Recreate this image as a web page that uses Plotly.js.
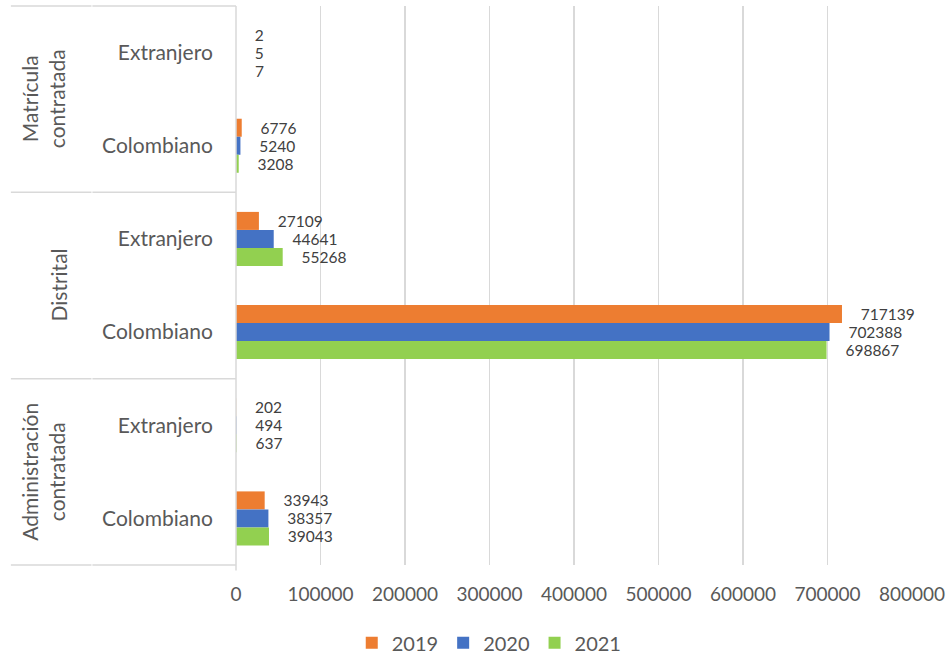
<!DOCTYPE html>
<html>
<head>
<meta charset="utf-8">
<script src="https://cdn.plot.ly/plotly-3.0.1.min.js"></script>
<style>html,body{margin:0;padding:0;background:#fff;}#chart{width:950px;height:658px;}</style>
</head>
<body>
<div id="chart"></div>
<script>
// Data
const groups = ["Matrícula<br>contratada", "Distrital", "Administración<br>contratada"];
const subcats = ["Extranjero", "Colombiano"];
const categories = [
  "Matrícula contratada|Extranjero",
  "Matrícula contratada|Colombiano",
  "Distrital|Extranjero",
  "Distrital|Colombiano",
  "Administración contratada|Extranjero",
  "Administración contratada|Colombiano"
];
const categoryLabels = ["Extranjero", "Colombiano", "Extranjero", "Colombiano", "Extranjero", "Colombiano"];
const years = ["2019", "2020", "2021"];
const values2019 = [2, 6776, 27109, 717139, 202, 33943];
const values2020 = [5, 5240, 44641, 702388, 494, 38357];
const values2021 = [7, 3208, 55268, 698867, 637, 39043];
const xTicks = [0, 100000, 200000, 300000, 400000, 500000, 600000, 700000, 800000];

const colors = ["#ED7D31", "#4472C4", "#92D050"];
const series = [values2019, values2020, values2021];
const textColor = "#595959";
const FONT = "Lato, 'Open Sans', sans-serif";

const traces = series.map((vals, i) => ({
  type: "bar",
  orientation: "h",
  name: years[i],
  y: categories,
  x: vals,
  marker: {color: colors[i]},
  text: vals.map(v => "\u00a0\u00a0\u00a0\u00a0" + v),
  textposition: "outside",
  constraintext: "none",
  cliponaxis: false,
  textfont: {family: FONT, size: 15.5, color: "#404040"},
  hoverinfo: "x+name"
}));

const shapes = [];
[1, 2/3, 1/3, 0].forEach(yy => {
  shapes.push({type: "line", xref: "paper", yref: "paper", x0: -0.333, x1: -0.2138, y0: yy, y1: yy, line: {color: "#d9d9d9", width: 1.5}});
  shapes.push({type: "line", xref: "paper", yref: "paper", x0: -0.2124, x1: 0, y0: yy, y1: yy, line: {color: "#d9d9d9", width: 1.5}});
});
shapes.push({type: "line", xref: "paper", yref: "paper", x0: 0, x1: 0, y0: -0.01, y1: 1, line: {color: "#d9d9d9", width: 1.5}});

const groupCenters = [5/6, 0.5, 1/6];
const groupShift = [-193, -178, -193];
const annotations = groups.map((g, i) => ({
  xref: "paper", yref: "paper", x: 0, y: groupCenters[i],
  xshift: groupShift[i], xanchor: "center", yanchor: "middle",
  text: g, textangle: -90, showarrow: false,
  font: {family: FONT, size: 21, color: textColor}
}));

const layout = {
  width: 950, height: 658,
  margin: {l: 236, r: 38, t: 6, b: 93, pad: 0},
  paper_bgcolor: "#ffffff", plot_bgcolor: "#ffffff",
  barmode: "group", bargap: 0.42, bargroupgap: 0,
  font: {family: FONT, color: textColor},
  xaxis: {
    range: [0, 800000], tickvals: xTicks, tickformat: "d",
    showgrid: true, gridcolor: "#d9d9d9", gridwidth: 1.5, zeroline: false,
    showline: false, ticks: "outside", ticklen: 12, tickcolor: "rgba(0,0,0,0)",
    tickfont: {family: FONT, size: 19, color: textColor}, fixedrange: true
  },
  yaxis: {
    type: "category", autorange: "reversed",
    tickvals: categories, ticktext: categoryLabels,
    showgrid: false, zeroline: false, showline: false,
    ticks: "outside", ticklen: 18, tickcolor: "rgba(0,0,0,0)",
    tickfont: {family: FONT, size: 21, color: textColor}, fixedrange: true
  },
  legend: {
    orientation: "h", xref: "container", yref: "container",
    x: 0.515, y: 0.023, xanchor: "center", yanchor: "middle",
    font: {family: FONT, size: 20, color: textColor},
    traceorder: "normal", itemclick: false
  },
  shapes: shapes,
  annotations: annotations,
  showlegend: true
};

Plotly.newPlot("chart", traces, layout, {displayModeBar: false, staticPlot: true});
</script>
</body>
</html>
